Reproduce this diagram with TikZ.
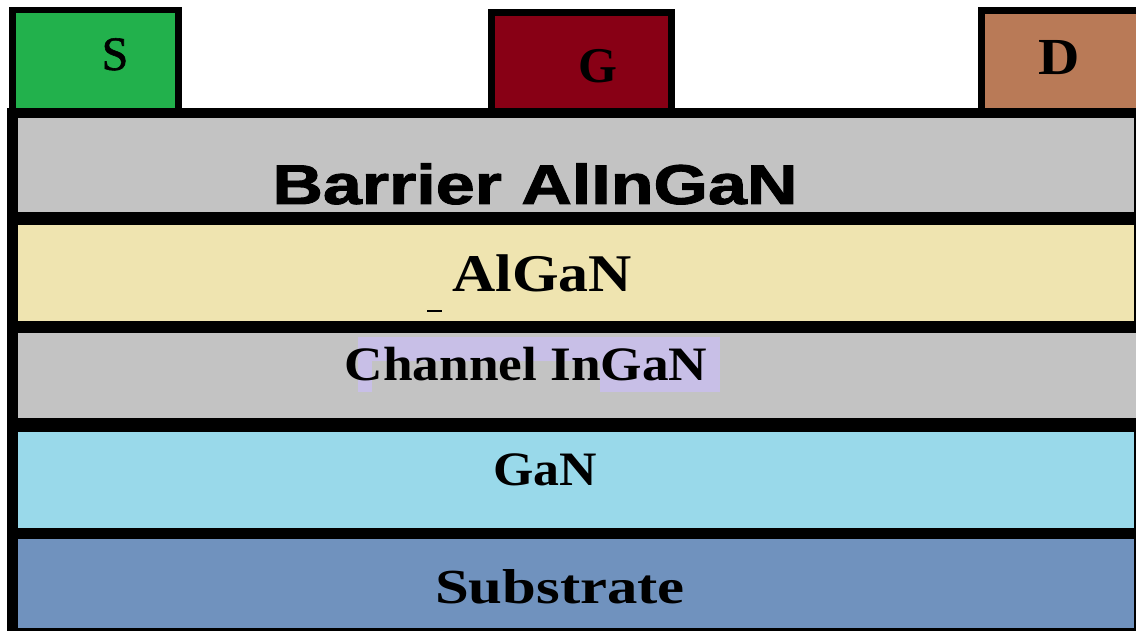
\documentclass[tikz,border=0pt]{standalone}
\usepackage{fontspec}
\setmainfont{Liberation Serif}
\newfontfamily\arialfont{Liberation Sans}[BoldFeatures={FakeBold=1.6}]
\newfontfamily\serifsemi{Liberation Serif}[FakeBold=1.2]
\definecolor{cS}{HTML}{22B14C}
\definecolor{cG}{HTML}{880015}
\definecolor{cD}{HTML}{B97A57}
\definecolor{cgray}{HTML}{C3C3C3}
\definecolor{cbeige}{HTML}{EFE4B0}
\definecolor{cblue}{HTML}{99D9EA}
\definecolor{csub}{HTML}{7092BE}
\definecolor{clav}{HTML}{C8BFE7}
\tikzset{
  contact/.style={draw=black,line width=6.5pt},
  lbl/.style={anchor=base,inner sep=0pt,text=black},
}
\begin{document}
\begin{tikzpicture}[x=1pt,y=-1pt]
\useasboundingbox (0,0) rectangle (1136,631);
\clip (0,0) rectangle (1136,631);
\fill[white] (0,0) rectangle (1136,631);
% contacts
\draw[contact,fill=cS] (12.5,10) rectangle (178.5,115);
\draw[contact,fill=cG] (491.5,12.5) rectangle (671.5,115);
\draw[contact,fill=cD] (981.5,10.5) rectangle (1160,115);
% stack frame
\fill[black] (7,108) rectangle (1150,640);
\fill[cgray]  (18,118) rectangle (1134,212);
\fill[cbeige] (18,225) rectangle (1134,321);
\fill[cgray]  (18,333) rectangle (1140,418);
\fill[cblue]  (18,432) rectangle (1134,528);
\fill[csub]   (18,539) rectangle (1134,628);
% highlight
\fill[clav] (358,337) rectangle (720,361);
\fill[clav] (358,361) rectangle (372,392);
\fill[clav] (600,361) rectangle (720,392);
% stray mark
\draw[line width=1.6pt] (427,311) -- (442,311);
% labels
\node[lbl,font=\serifsemi\fontsize{48}{58}\selectfont] (s) at (115,70) {S};
\node[lbl,font=\fontsize{50}{60}\selectfont\bfseries] (g) at (598,83) {G};
\node[lbl,font=\fontsize{52}{62}\selectfont\bfseries,xscale=1.1] (d) at (1059,75) {D};
\node[lbl,font=\arialfont\fontsize{56}{66}\selectfont\bfseries,xscale=1.25] (barrier) at (535,204) {Barrier AlInGaN};
\node[lbl,font=\fontsize{53}{63}\selectfont\bfseries,xscale=1.13] (algan) at (542,292) {AlGaN};
\node[lbl,font=\fontsize{48}{58}\selectfont\bfseries,xscale=1.11] (channel) at (526,380) {Channel InGaN};
\node[lbl,font=\fontsize{48}{58}\selectfont\bfseries,xscale=1.08] (gan) at (545,485) {GaN};
\node[lbl,font=\fontsize{49}{59}\selectfont\bfseries,xscale=1.24] (sub) at (560,603) {Substrate};
\end{tikzpicture}
\end{document}
